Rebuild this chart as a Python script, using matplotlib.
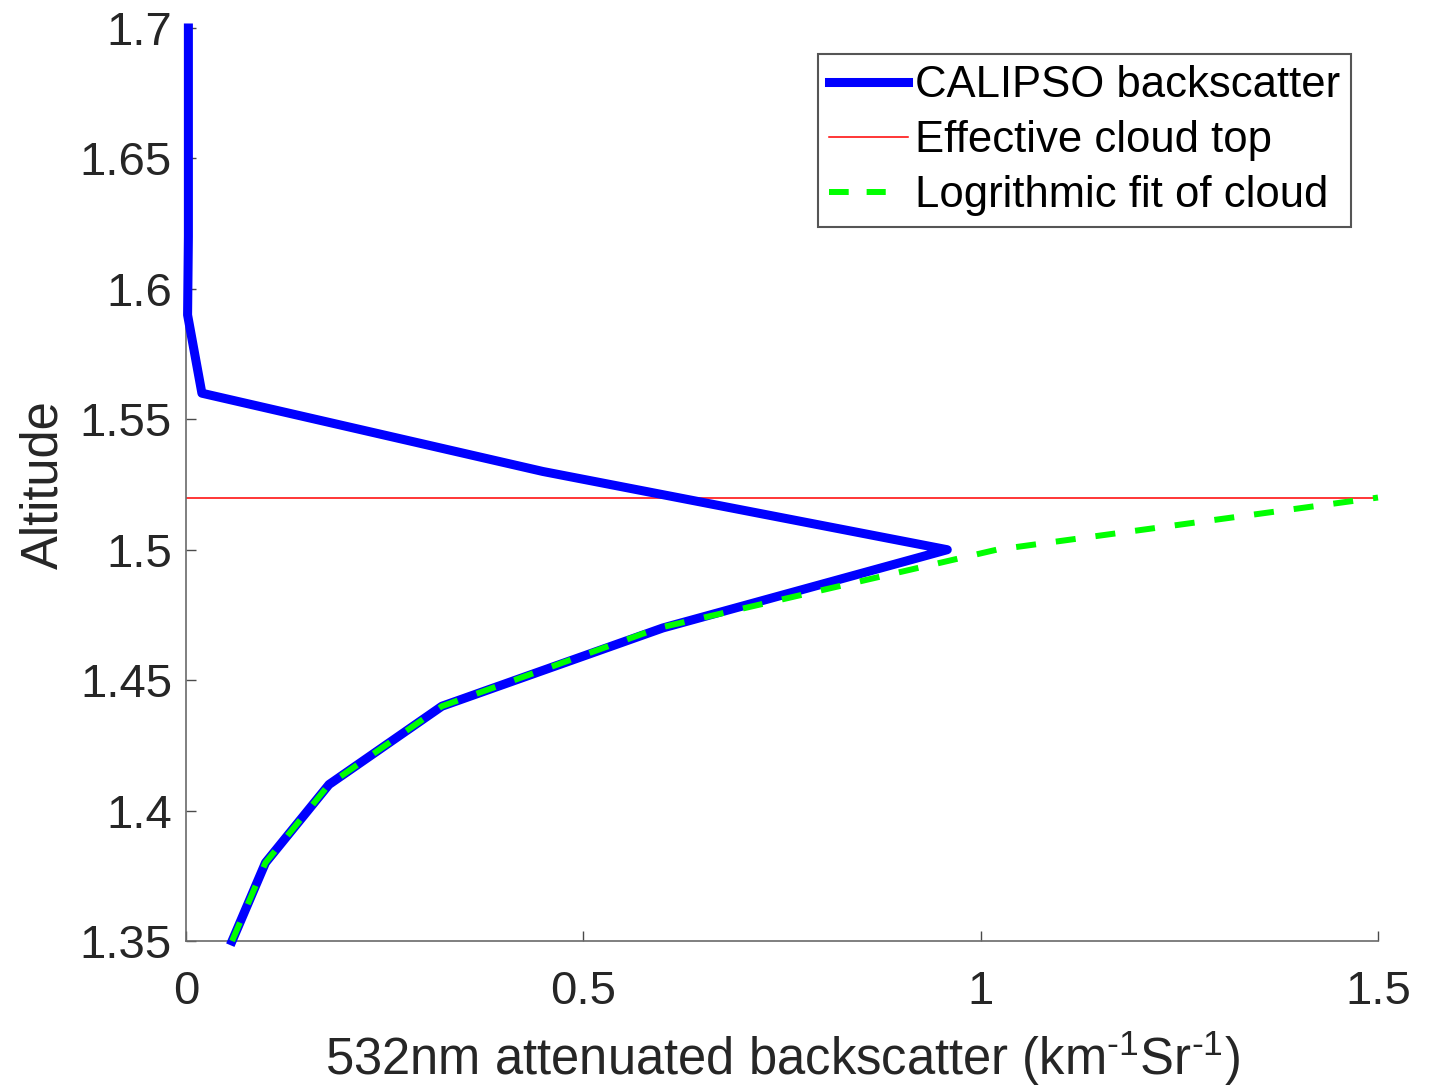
import matplotlib
matplotlib.use("Agg")
import matplotlib.pyplot as plt

plt.rcParams['font.family'] = ['Liberation Sans', 'DejaVu Sans']
plt.rcParams['mathtext.default'] = 'regular'

# CALIPSO attenuated backscatter profile
calipso_x = [0.003, 0.003, 0.003, 0.003, 0.002, 0.02, 0.449, 0.958, 0.60, 0.322, 0.18, 0.10, 0.058]
calipso_alt = [1.70, 1.68, 1.65, 1.62, 1.59, 1.56, 1.53, 1.50, 1.47, 1.44, 1.41, 1.38, 1.35]

# Effective cloud top
cloud_top_alt = 1.52
cloud_top_x = [0.0, 1.5]

# Logarithmic fit of cloud
fit_x = [0.058, 0.10, 0.18, 0.322, 0.595, 1.02, 1.5]
fit_alt = [1.35, 1.38, 1.41, 1.44, 1.47, 1.50, 1.52]

xticks = [0, 0.5, 1, 1.5]
xtick_labels = ["0", "0.5", "1", "1.5"]
yticks = [1.35, 1.4, 1.45, 1.5, 1.55, 1.6, 1.65, 1.7]
ytick_labels = ["1.35", "1.4", "1.45", "1.5", "1.55", "1.6", "1.65", "1.7"]

fig = plt.figure(figsize=(14.4, 10.9), dpi=100)
ax = fig.add_axes([186/1440, 1-941/1090, (1378-186)/1440, (941-28)/1090])

ax.plot(calipso_x, calipso_alt, color='#0000ff', lw=6.5, solid_joinstyle='round',
        label='CALIPSO backscatter', clip_on=False, zorder=3)
ax.plot(cloud_top_x, [cloud_top_alt, cloud_top_alt], color='#ff0000', lw=1.1,
        label='Effective cloud top', zorder=2)
ax.plot(fit_x, fit_alt, color='#00ff00', lw=4.3, linestyle=(0, (3.35, 3.35)),
        label='Logrithmic fit of cloud', clip_on=False, zorder=4)

ax.set_xlim(0, 1.5)
ax.set_ylim(1.35, 1.7)
ax.set_xticks(xticks)
ax.set_xticklabels(xtick_labels)
ax.set_yticks(yticks)
ax.set_yticklabels(ytick_labels)

for s in ['top', 'right']:
    ax.spines[s].set_visible(False)
for s in ['left', 'bottom']:
    ax.spines[s].set_color('#6a6a6a')
    ax.spines[s].set_linewidth(1.2)

ax.tick_params(axis='both', direction='in', length=7, width=1.0, color='#4a4a4a',
               labelsize=34, labelcolor='#262626')
ax.tick_params(axis='x', pad=21)
ax.tick_params(axis='y', pad=10)

ax.set_xlabel('532nm attenuated backscatter (km$^{\u20101}$Sr$^{\u20101}$)', fontsize=36.5,
              color='#262626', labelpad=10)
ax.set_ylabel('Altitude', fontsize=36.5, color='#262626', labelpad=8)

leg = ax.legend(loc='upper right', bbox_to_anchor=(1351/1440, 1-54/1090),
                bbox_transform=fig.transFigure, fontsize=31.4, frameon=True,
                fancybox=False, handlelength=1.82, handletextpad=0.16,
                labelspacing=0.32, borderpad=0.25, borderaxespad=0)
leg.get_frame().set_edgecolor('#555555')
leg.get_frame().set_linewidth(1.5)
leg.get_frame().set_alpha(1)
leg_lines = leg.get_lines()
leg_lines[2].set_linestyle((0, (3.3, 3.0, 3.2, 100)))

fig.savefig('out.png', dpi=100)
